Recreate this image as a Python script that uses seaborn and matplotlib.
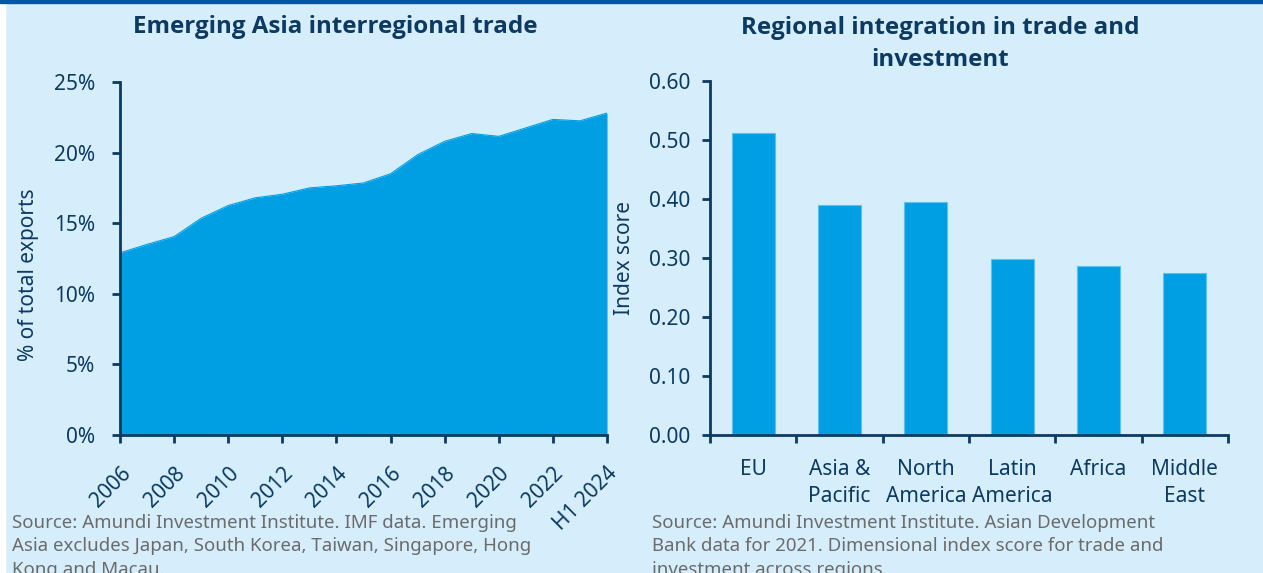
import numpy as np
import pandas as pd
import matplotlib.pyplot as plt
import matplotlib.patches as mpatches
import seaborn as sns

# data
years = ["2006", "2007", "2008", "2009", "2010", "2011", "2012", "2013", "2014",
         "2015", "2016", "2017", "2018", "2019", "2020", "2021", "2022", "2023", "H1 2024"]
share = [12.9, 13.5, 14.05, 15.35, 16.25, 16.8, 17.05, 17.5, 17.65,
         17.85, 18.5, 19.85, 20.8, 21.35, 21.15, 21.75, 22.35, 22.25, 22.8]
regions = ["EU", "Asia &\nPacific", "North\nAmerica", "Latin\nAmerica", "Africa", "Middle\nEast"]
scores = [0.512, 0.390, 0.395, 0.298, 0.287, 0.275]

BG = "#d6eefc"
BLUE = "#009fe3"
NAVY = "#0c3a63"
GREY = "#6b6b6b"
FS = 15
TITLE_FONT = ["Open Sans", "Noto Sans", "DejaVu Sans"]

sns.set_theme(style="ticks")
plt.rcParams["font.family"] = ["Noto Sans", "DejaVu Sans"]

fig = plt.figure(figsize=(12.63, 5.73), dpi=100)
fig.patch.set_facecolor(BG)
fig.patches.append(mpatches.Rectangle((0, 0), 5 / 1263, 1, transform=fig.transFigure,
                                      color="white", zorder=0))
fig.patches.append(mpatches.Rectangle((0, 1 - 3 / 573), 1, 3 / 573, transform=fig.transFigure,
                                      color="#0055a0", zorder=1))

ax1 = fig.add_axes([0.0950, 0.2408, 0.3856, 0.6161])
ax2 = fig.add_axes([0.5622, 0.2408, 0.4101, 0.6178])

# left: area chart
df1 = pd.DataFrame({"x": np.arange(len(years)), "v": share})
sns.lineplot(data=df1, x="x", y="v", ax=ax1, color=BLUE, linewidth=0.8)
ax1.fill_between(df1["x"], df1["v"], color=BLUE, linewidth=0)
ax1.set_xlim(0, len(years) - 1)
ax1.set_ylim(0, 25)
ax1.set_yticks(range(0, 26, 5))
ax1.set_yticklabels([f"{t}%" for t in range(0, 26, 5)])
tick_pos = list(range(0, len(years), 2))
ax1.set_xticks(tick_pos)
ax1.set_xticklabels([years[i] for i in tick_pos], rotation=45, ha="right",
                    rotation_mode="anchor")
ax1.set_xlabel("")
ax1.set_ylabel("% of total exports", fontsize=FS, color=NAVY)
ax1.yaxis.set_label_coords(-0.166, 0.453)

# right: bars
df2 = pd.DataFrame({"region": regions, "score": scores})
sns.barplot(data=df2, x="region", y="score", ax=ax2, color=BLUE, width=0.5,
            saturation=1, edgecolor="#5cc3f0", linewidth=0.8)
ax2.set_xlim(-0.5, len(regions) - 0.5)
ax2.set_ylim(0, 0.6)
ax2.set_yticks(np.arange(0, 0.61, 0.1))
ax2.set_yticklabels([f"{t:.2f}" for t in np.arange(0, 0.61, 0.1)])
ax2.set_xticks(np.arange(-0.5, len(regions), 1), minor=False)
ax2.set_xticklabels([""] * (len(regions) + 1))
ax2.set_xticks(np.arange(len(regions)), minor=True)
ax2.set_xticklabels(regions, minor=True, linespacing=1.4)
ax2.set_xlabel("")
ax2.set_ylabel("Index score", fontsize=FS, color=NAVY, labelpad=10)

for ax in (ax1, ax2):
    ax.set_facecolor(BG)
    sns.despine(ax=ax)
    for s in ("left", "bottom"):
        ax.spines[s].set_color(NAVY)
        ax.spines[s].set_linewidth(2)
    ax.tick_params(axis="both", which="major", colors=NAVY, labelcolor=NAVY,
                   labelsize=FS, width=2, length=6, direction="out")
    ax.tick_params(axis="x", which="minor", labelcolor=NAVY, labelsize=FS)

ax1.tick_params(axis="y", pad=12)
ax1.tick_params(axis="x", pad=14)
ax2.tick_params(axis="y", pad=8)
ax2.tick_params(axis="x", which="minor", length=0, pad=17)

# titles
fig.text(335 / 1263, 1 - 27 / 573, "Emerging Asia interregional trade", fontsize=17.4,
         fontweight="bold", family=TITLE_FONT, color=NAVY, ha="center", va="center")
fig.text(940 / 1263, 1 - 44 / 573, "Regional integration in trade and\ninvestment",
         fontsize=17.4, fontweight="bold", family=TITLE_FONT, color=NAVY,
         ha="center", va="center", linespacing=1.45)

# sources
fig.text(12 / 1263, 1 - 514 / 573,
         "Source: Amundi Investment Institute. IMF data. Emerging\n"
         "Asia excludes Japan, South Korea, Taiwan, Singapore, Hong\n"
         "Kong and Macau.", fontsize=13.45, color=GREY, va="top", linespacing=1.39)
fig.text(652 / 1263, 1 - 514 / 573,
         "Source: Amundi Investment Institute. Asian Development\n"
         "Bank data for 2021. Dimensional index score for trade and\n"
         "investment across regions.", fontsize=13.45, color=GREY, va="top", linespacing=1.39)

fig.savefig("out.png", dpi=100, facecolor=fig.get_facecolor())
